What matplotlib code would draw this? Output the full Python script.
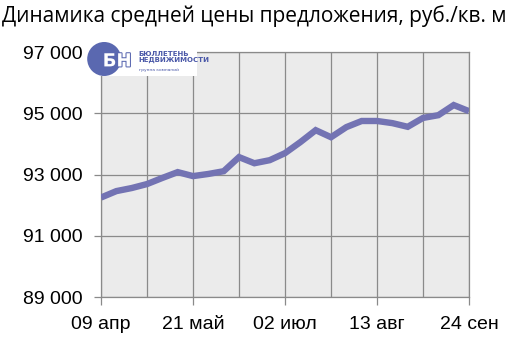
import numpy as np
import matplotlib.pyplot as plt
import matplotlib.patheffects as pe
from matplotlib.patches import Ellipse, Rectangle
from matplotlib.ticker import FuncFormatter, MultipleLocator

# weekly average asking price, rub per sq. m
weeks = list(range(25))
prices = [92250, 92460, 92560, 92690, 92890, 93080, 92950, 93020, 93110,
          93570, 93370, 93470, 93700, 94060, 94450, 94220, 94550, 94750,
          94750, 94680, 94560, 94850, 94940, 95270, 95070]

y_ticks = [89000, 91000, 93000, 95000, 97000]
tick_weeks = [0, 6, 12, 18, 24]
tick_labels = ['09 апр', '21 май', '02 июл', '13 авг', '24 сен']
title = 'Динамика средней цены предложения, руб./кв. м'

fig = plt.figure(figsize=(5.21, 3.45), dpi=100)
ax = fig.add_axes([0.1939, 0.139, 0.7064, 0.710])
ax.set_facecolor('#ebebeb')

ax.plot(weeks, prices, color='#7373b3', lw=4.6, solid_joinstyle='miter',
        solid_capstyle='butt', zorder=3)

ax.set_xlim(0, 24)
ax.set_ylim(89000, 97000)
ax.set_yticks(y_ticks)
ax.yaxis.set_major_formatter(FuncFormatter(lambda v, p: f'{int(v):,}'.replace(',', ' ')))
ax.set_xticks(tick_weeks)
ax.set_xticklabels(tick_labels)
ax.xaxis.set_minor_locator(MultipleLocator(3))

ax.grid(True, which='both', axis='x', color='#8a8a8a', lw=0.9)
ax.grid(True, which='major', axis='y', color='#8a8a8a', lw=0.9)
ax.tick_params(axis='both', which='major', labelsize=14, color='#8a8a8a',
               length=6, width=0.9)
ax.tick_params(axis='x', which='minor', length=0)
ax.tick_params(axis='x', pad=8)
ax.tick_params(axis='y', length=5, pad=8)
for lab in ax.get_xticklabels() + ax.get_yticklabels():
    lab.set_fontfamily('Liberation Sans')
for s in ax.spines.values():
    s.set_color('#8a8a8a')
    s.set_linewidth(0.9)

fig.text(0.003, 0.985, title, fontsize=15, family='Open Sans', va='top', ha='left')

# logo of the bulletin
fig.patches.append(Rectangle((0.169, 0.78), 0.209, 0.098, transform=fig.transFigure,
                             facecolor='white', edgecolor='none', zorder=5))
fig.patches.append(Ellipse((0.2, 0.829), 34 / 521, 34 / 345, transform=fig.transFigure,
                           facecolor='#5a68b0', edgecolor='none', zorder=6))
fig.text(0.2246, 0.822, 'БН', fontsize=13, color='white', weight='bold',
         family='DejaVu Sans', ha='center', va='center', zorder=7,
         path_effects=[pe.withStroke(linewidth=1.5, foreground='#5a68b0')])
fig.text(0.265, 0.835, 'БЮЛЛЕТЕНЬ\nНЕДВИЖИМОСТИ', fontsize=5, color='#4a58a8',
         weight='bold', family='DejaVu Sans', ha='left', va='center',
         linespacing=0.9, zorder=7)
fig.text(0.267, 0.797, 'группа компаний', fontsize=3.2, color='#4a58a8',
         family='DejaVu Sans', ha='left', va='center', zorder=7)

fig.savefig('out.png', dpi=100)
